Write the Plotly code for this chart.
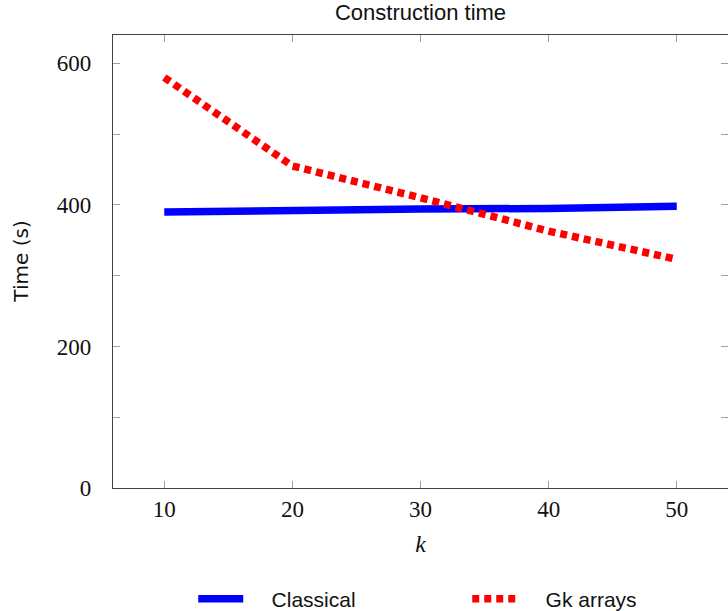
import plotly.graph_objects as go

k_values = [10, 20, 30, 40, 50]
classical = [390, 393, 394, 395, 398]
gk_arrays = [580, 455, 410, 363, 323]
x_ticks = [10, 20, 30, 40, 50]
y_ticks = [0, 200, 400, 600]

serif = "Liberation Serif, DejaVu Serif, serif"
sans = "Liberation Sans, sans-serif"
axis_col = "#4a4040"
tick_col = "#a0a0a0"
gap = "&nbsp;" * 4

fig = go.Figure()
fig.add_trace(go.Scatter(x=k_values, y=classical, mode="lines", name=gap + "Classical",
                         line=dict(color="#0000ff", width=7.5)))
fig.add_trace(go.Scatter(x=k_values, y=gk_arrays, mode="lines", name=gap + "Gk arrays",
                         line=dict(color="#ff0000", width=7.5, dash="7px,5px")))

fig.update_layout(
    width=728, height=611,
    margin=dict(l=113, r=0, t=35, b=123, autoexpand=False),
    paper_bgcolor="white", plot_bgcolor="white",
    title=dict(text="Construction time", x=0.5, xref="paper", xanchor="center",
               y=1, yref="container", yanchor="top", pad=dict(t=5),
               font=dict(family=sans, size=22, color="#111")),
    showlegend=True,
    legend=dict(orientation="h", x=0.576, xanchor="center", xref="paper",
                y=-0.245, yanchor="middle",
                font=dict(family=sans, size=21, color="#111"),
                entrywidth=214, entrywidthmode="pixels",
                itemwidth=45),
    annotations=[dict(text="Time (s)", textangle=-90, xref="paper", yref="paper",
                      x=-0.151, y=0.5, xanchor="center", yanchor="middle", showarrow=False,
                      font=dict(family="DejaVu Sans, sans-serif", size=20, color="#111"))],
)
fig.update_xaxes(
    range=[6, 54], tickvals=x_ticks, ticks="inside", ticklen=7, tickcolor=tick_col,
    showline=True, linecolor=axis_col, linewidth=1.3, mirror="ticks",
    showgrid=False, zeroline=False, ticklabelstandoff=0,
    tickfont=dict(family=serif, size=23, color="#111"),
    title=dict(text="<i>k</i>", font=dict(family=serif, size=24, color="#111"), standoff=14),
)
fig.update_yaxes(
    range=[0, 640], tickvals=y_ticks, ticks="inside", ticklen=7, tickcolor=tick_col,
    minor=dict(dtick=100, ticks="inside", ticklen=7, tickcolor=tick_col, showgrid=False),
    showline=True, linecolor=axis_col, linewidth=1.3, mirror="ticks",
    showgrid=False, zeroline=False, ticklabelstandoff=16,
    tickfont=dict(family=serif, size=23, color="#111"),
)

fig.write_html("out.html")
